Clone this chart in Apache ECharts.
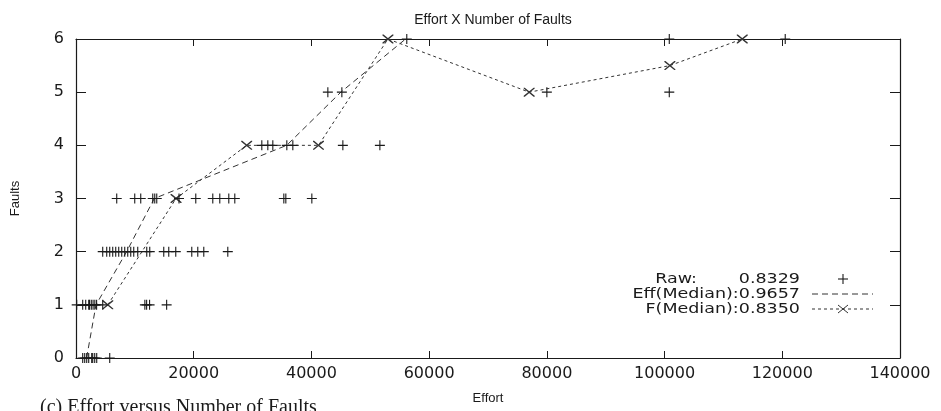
<!DOCTYPE html>
<html>
<head>
  <meta charset="UTF-8" />
  <title>Effort X Number of Faults</title>
  <script src="https://cdn.jsdelivr.net/npm/echarts@6/dist/echarts.min.js"></script>
  <style>
    body { margin: 0; background: #fff; overflow: hidden; }
    #main { width: 941px; height: 411px; }
  </style>
</head>
<body>
  <div id="main"></div>
  <script>
    const chart = echarts.init(document.getElementById('main'));

    // raw observations: effort values for each fault count
    const rawFault0 = [1140, 1480, 1820, 2160, 2670, 2840, 3180, 3520, 5730];
    const rawFault1 = [120, 1140, 1650, 2160, 2300, 2600, 2900, 3200, 3500, 4540, 11700, 12000, 12500, 15400];
    const rawFault2 = [4540, 5220, 5730, 6240, 6750, 7260, 7770, 8280, 8790, 9300, 9810, 10490,
                       12020, 12530, 14910, 15760, 16950, 19670, 20690, 21710, 25790];
    const rawFault3 = [6920, 9980, 11000, 13040, 13380, 13720, 17500, 20350, 23240, 24430,
                       25960, 26980, 35310, 35650, 40070];
    const rawFault4 = [31570, 32590, 33440, 35820, 36840, 45340, 51630];
    const rawFault5 = [42790, 45170, 80000, 100800];
    const rawFault6 = [56200, 100800, 120500];

    // median curves
    const effMedianEffort = [1800, 3400, 8600, 13300, 35800, 45000, 56000];
    const effMedianFaults = [0, 1, 2, 3, 4, 5, 6];
    const fMedianEffort = [5400, 17000, 29000, 41200, 53000, 77000, 100900, 113200];
    const fMedianFaults = [1, 3, 4, 4, 6, 5, 5.5, 6];

    const rawGroups = [rawFault0, rawFault1, rawFault2, rawFault3, rawFault4, rawFault5, rawFault6];
    const rawData = [];
    rawGroups.forEach((list, f) => list.forEach(e => rawData.push([e, f])));

    const plusPath = 'path://M0,4.45H10V5.55H0Z M4.45,0H5.55V10H4.45Z';
    const crossPath = 'path://M0,0L1,0L10,9L10,10L9,10L0,1Z M10,0L10,1L1,10L0,10L0,9L9,0Z';
    const ink = '#1a1a1a';
    const tickFont = { fontFamily: 'DejaVu Sans', fontSize: 16, color: ink, formatter: v => String(v) };
    const frameLine = { show: true, onZero: false, lineStyle: { color: ink, width: 1.2 } };

    const option = {
      backgroundColor: '#fff',
      animation: false,
      title: {
        text: 'Effort X Number of Faults',
        left: 488,
        textAlign: 'center',
        top: 8,
        textStyle: { fontFamily: 'Liberation Sans', fontSize: 14, fontWeight: 'normal', color: ink }
      },
      grid: { left: 76, right: 41, top: 39, bottom: 53 },
      xAxis: [
        {
          type: 'value', min: 0, max: 140000, interval: 20000,
          name: 'Effort', nameLocation: 'middle', nameGap: 34,
          nameTextStyle: { fontFamily: 'Liberation Sans', fontSize: 13, color: ink },
          axisLine: frameLine,
          axisTick: { show: true, inside: true, length: 7, lineStyle: { color: ink } },
          axisLabel: Object.assign({ margin: 8 }, tickFont),
          splitLine: { show: false }
        },
        {
          type: 'value', position: 'top', min: 0, max: 140000, interval: 20000,
          axisLine: frameLine,
          axisTick: { show: true, inside: true, length: 7, lineStyle: { color: ink } },
          axisLabel: { show: false },
          splitLine: { show: false }
        }
      ],
      yAxis: [
        {
          type: 'value', min: 0, max: 6, interval: 1,
          name: 'Faults', nameLocation: 'middle', nameGap: 54, nameRotate: 90,
          nameTextStyle: { fontFamily: 'Liberation Sans', fontSize: 13, color: ink },
          axisLine: frameLine,
          axisTick: { show: true, inside: true, length: 10, lineStyle: { color: ink } },
          axisLabel: Object.assign({ margin: 12 }, tickFont),
          splitLine: { show: false }
        },
        {
          type: 'value', position: 'right', min: 0, max: 6, interval: 1,
          axisLine: frameLine,
          axisTick: { show: true, inside: true, length: 10, lineStyle: { color: ink } },
          axisLabel: { show: false },
          splitLine: { show: false }
        }
      ],
      series: [
        {
          name: 'Raw',
          type: 'scatter',
          data: rawData,
          symbol: plusPath,
          symbolSize: 10,
          itemStyle: { color: ink, opacity: 1 },
          z: 3
        },
        {
          name: 'Eff(Median)',
          type: 'line',
          data: effMedianEffort.map((e, i) => [e, effMedianFaults[i]]),
          showSymbol: false,
          lineStyle: { color: '#333', width: 1, type: [6, 4] },
          z: 2
        },
        {
          name: 'F(Median)',
          type: 'line',
          data: fMedianEffort.map((e, i) => [e, fMedianFaults[i]]),
          symbol: crossPath,
          symbolSize: [11, 9],
          itemStyle: { color: '#333' },
          lineStyle: { color: '#333', width: 1, type: [3, 3] },
          z: 2
        }
      ],
      graphic: [
        { type: 'text', x: 697, y: 279, scaleX: 1.25,
          style: { text: 'Raw:', align: 'right', verticalAlign: 'middle', font: '14px "DejaVu Sans"', fill: ink } },
        { type: 'text', x: 800, y: 279, scaleX: 1.25,
          style: { text: '0.8329', align: 'right', verticalAlign: 'middle', font: '14px "DejaVu Sans"', fill: ink } },
        { type: 'text', x: 800, y: 294, scaleX: 1.25,
          style: { text: 'Eff(Median):0.9657', align: 'right', verticalAlign: 'middle', font: '14px "DejaVu Sans"', fill: ink } },
        { type: 'text', x: 800, y: 309, scaleX: 1.25,
          style: { text: 'F(Median):0.8350', align: 'right', verticalAlign: 'middle', font: '14px "DejaVu Sans"', fill: ink } },
        { type: 'line', shape: { x1: 838, y1: 279, x2: 848, y2: 279 }, style: { stroke: ink, lineWidth: 1.1 } },
        { type: 'line', shape: { x1: 843, y1: 274, x2: 843, y2: 284 }, style: { stroke: ink, lineWidth: 1.1 } },
        { type: 'line', shape: { x1: 812, y1: 294, x2: 873, y2: 294 }, style: { stroke: '#333', lineWidth: 1, lineDash: [6, 4] } },
        { type: 'line', shape: { x1: 812, y1: 309, x2: 873, y2: 309 }, style: { stroke: '#333', lineWidth: 1, lineDash: [3, 3] } },
        { type: 'line', shape: { x1: 838, y1: 305, x2: 848, y2: 313 }, style: { stroke: '#333', lineWidth: 1 } },
        { type: 'line', shape: { x1: 848, y1: 305, x2: 838, y2: 313 }, style: { stroke: '#333', lineWidth: 1 } },
        { type: 'text', x: 40, y: 408,
          style: { text: '(c) Effort versus Number of Faults', align: 'left', verticalAlign: 'middle',
                   font: '20px "Liberation Serif"', fill: ink } }
      ]
    };

    chart.setOption(option);
  </script>
</body>
</html>
